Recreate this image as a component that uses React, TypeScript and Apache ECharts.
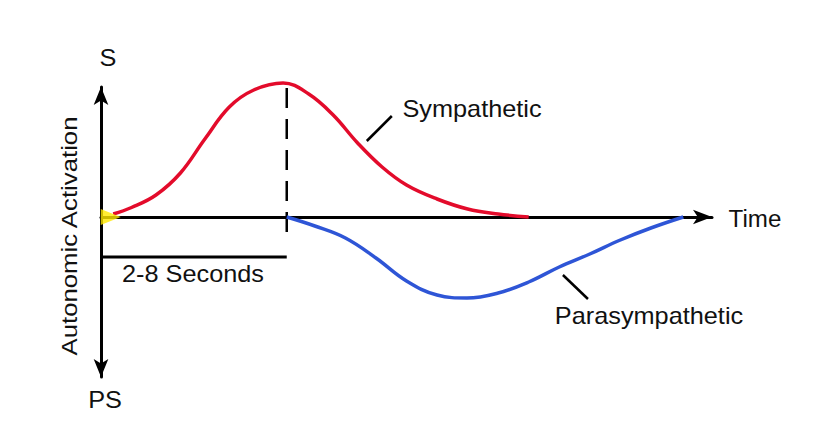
import React, { useEffect, useRef } from "react";
import * as echarts from "echarts";

// Time axis (arbitrary units, 0..100) and activation (S positive, PS negative)
const sympatheticX = [2, 5, 9, 13, 17, 21, 25, 29.8, 34, 38, 42, 46, 50, 55, 60, 65, 70];
const sympatheticY = [3, 9.5, 22, 44, 78, 110, 127, 134, 123, 102, 74, 50, 32, 18, 8, 3, 0];
const parasympatheticX = [30.4, 35, 40, 45, 50, 55, 59.9, 65, 70, 75, 80, 85, 90, 95.3];
const parasympatheticY = [0, -9, -21, -41, -64, -78, -81, -76, -65, -50, -37, -23, -11, 0];
const peakX = [30.4, 30.4];
const peakY = [129, -26];
const bracketX = [0, 30.4];
const bracketY = [-40, -40];
const sympLeaderX = [43.5, 47.6];
const sympLeaderY = [76, 101];
const paraLeaderX = [75.6, 79.7];
const paraLeaderY = [-58, -82];
const onsetX = [1.6];
const onsetY = [0];

const labels = {
  yTop: "S",
  yBottom: "PS",
  yName: "Autonomic Activation",
  xName: "Time",
  symp: "Sympathetic",
  para: "Parasympathetic",
  bracket: "2-8 Seconds",
};

const zip = (xs: number[], ys: number[]) => xs.map((x, i) => [x, ys[i]]);

const FONT = '"Liberation Sans", Arial, Helvetica, sans-serif';

export default function App() {
  const ref = useRef<HTMLDivElement>(null);
  useEffect(() => {
    if (!ref.current) return;
    const chart = echarts.init(ref.current, undefined, { renderer: "svg" });
    const txt = (text: string, x: number, y: number, extra: any = {}) => ({
      type: "text",
      x,
      y,
      scaleX: extra.scaleX ?? 1.1,
      rotation: extra.rotation ?? 0,
      z: 100,
      style: {
        text,
        fill: "#111",
        font: `23px ${FONT}`,
        textAlign: "center",
        textVerticalAlign: "middle",
      },
    });
    const lineSeries = (data: number[][], color: string, width: number, extra: any = {}) => ({
      type: "line",
      data,
      showSymbol: false,
      symbol: "none",
      silent: true,
      clip: false,
      lineStyle: { color, width, ...(extra.lineStyle || {}) },
      smooth: extra.smooth ?? false,
      z: extra.z ?? 3,
    });
    chart.setOption({
      animation: false,
      backgroundColor: "#ffffff",
      grid: { left: 101, top: 87, width: 611, height: 290, containLabel: false },
      xAxis: {
        type: "value",
        min: 0,
        max: 100,
        axisLine: {
          show: true,
          onZero: true,
          symbol: ["none", "arrow"],
          symbolSize: [11, 19],
          lineStyle: { color: "#000", width: 3 },
        },
        axisTick: { show: false },
        axisLabel: { show: false },
        splitLine: { show: false },
      },
      yAxis: {
        type: "value",
        min: -160,
        max: 130,
        axisLine: {
          show: true,
          onZero: true,
          symbol: ["arrow", "arrow"],
          symbolSize: [11, 18],
          lineStyle: { color: "#000", width: 3 },
        },
        axisTick: { show: false },
        axisLabel: { show: false },
        splitLine: { show: false },
      },
      series: [
        lineSeries(zip(peakX, peakY), "#000", 2.5, { lineStyle: { type: [20, 11] } }),
        lineSeries(zip(bracketX, bracketY), "#000", 3),
        lineSeries(zip(sympLeaderX, sympLeaderY), "#000", 2.5),
        lineSeries(zip(paraLeaderX, paraLeaderY), "#000", 2.5),
        lineSeries(zip(sympatheticX, sympatheticY), "#e30b2b", 3.5, { smooth: 0.4, z: 5 }),
        lineSeries(zip(parasympatheticX, parasympatheticY), "#2e55d6", 3.5, { smooth: 0.4, z: 5 }),
        {
          type: "scatter",
          data: zip(onsetX, onsetY),
          symbol: "triangle",
          symbolSize: [16, 20],
          symbolRotate: -90,
          itemStyle: { color: "#ffe800" },
          silent: true,
          clip: false,
          z: 6,
        },
      ],
      graphic: [
        txt(labels.yTop, 108, 58),
        txt(labels.yBottom, 105, 400),
        txt(labels.xName, 755, 219, { scaleX: 1.05 }),
        txt(labels.symp, 472, 109),
        txt(labels.para, 649, 316),
        txt(labels.bracket, 193, 274),
        txt(labels.yName, 69, 236, { rotation: Math.PI / 2, scaleX: 1.12 }),
      ],
    });
    return () => chart.dispose();
  }, []);
  return (
    <div
      ref={ref}
      style={{ position: "fixed", left: 0, top: 0, width: 834, height: 438, background: "#fff" }}
    />
  );
}
